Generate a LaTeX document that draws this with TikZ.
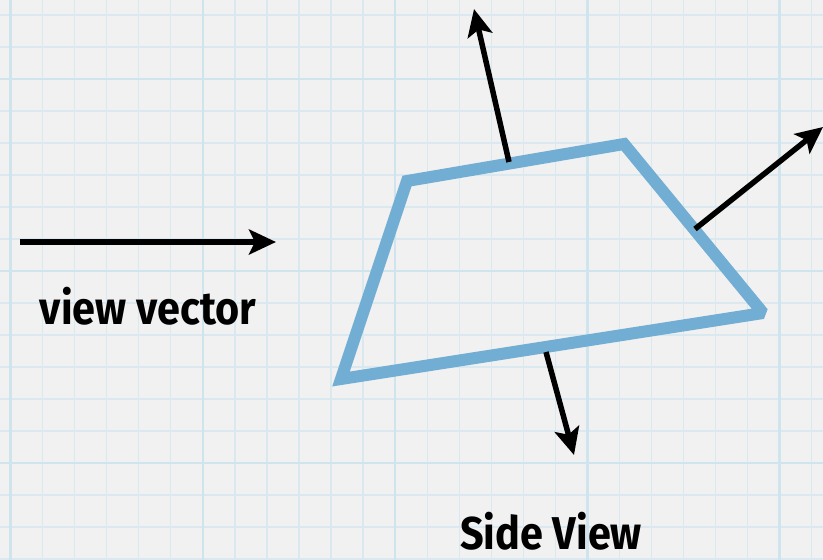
\documentclass[tikz,border=0pt]{standalone}
\usepackage{fontspec}
\setmainfont{Fira Sans}
\usetikzlibrary{arrows.meta}
\definecolor{paper}{HTML}{F1F1F1}
\definecolor{gridblue}{HTML}{D9E9EF}
\definecolor{gridmajor}{HTML}{CFE4EC}
\definecolor{shapeblue}{HTML}{72AED3}
\tikzset{
  normalarrow/.style={line width=5.5pt, -{Stealth[length=27pt,width=25pt,inset=6pt]}},
  facet/.style={draw=shapeblue, line width=12pt, line join=miter, miter limit=2},
  label/.style={font=\fontsize{46}{50}\selectfont\bfseries, inner sep=0pt, xscale=0.9, text depth=0pt}
}
\begin{document}
\begin{tikzpicture}[x=1pt,y=-1pt]
\useasboundingbox (0,0) rectangle (823,560);
\fill[paper] (0,0) rectangle (823,560);
% grid
\foreach \i in {0,...,25} {
  \draw[gridblue, line width=1.3pt] ({10.5+32.05*\i},0) -- ({10.5+32.05*\i},560);
}
\foreach \j in {-1,...,17} {
  \draw[gridblue, line width=1.3pt] (0,{15+32*\j}) -- (823,{15+32*\j});
}
\foreach \i in {0,6,12,18,24} {
  \draw[gridmajor, line width=2.6pt] ({10.5+32.05*\i},0) -- ({10.5+32.05*\i},560);
}
\foreach \j in {-3,3,9,15} {
  \draw[gridmajor, line width=2.6pt] (0,{175+32*\j}) -- (823,{175+32*\j});
}
% shape
\coordinate (tl) at (407,181);
\coordinate (tr) at (624,144);
\coordinate (r) at (763,313);
\coordinate (bl) at (341,379);
\draw[facet] (tl) -- (tr) -- (r) -- (bl) -- cycle;
% normals
\coordinate (n1s) at (509,162);
\coordinate (n1e) at (474,9);
\coordinate (n2s) at (695,229);
\coordinate (n2e) at (823,127);
\coordinate (n3s) at (546,352);
\coordinate (n3e) at (574,455);
\draw[normalarrow] (n1s) -- (n1e);
\draw[normalarrow] (n2s) -- (n2e);
\draw[normalarrow] (n3s) -- (n3e);
% view vector
\coordinate (vs) at (20,242);
\coordinate (ve) at (276,242);
\draw[normalarrow] (vs) -- (ve);
\node[label, anchor=base] (vv) at (148,324) {view vector};
\node[label, anchor=base] (sv) at (551,549) {Side View};
\end{tikzpicture}
\end{document}
